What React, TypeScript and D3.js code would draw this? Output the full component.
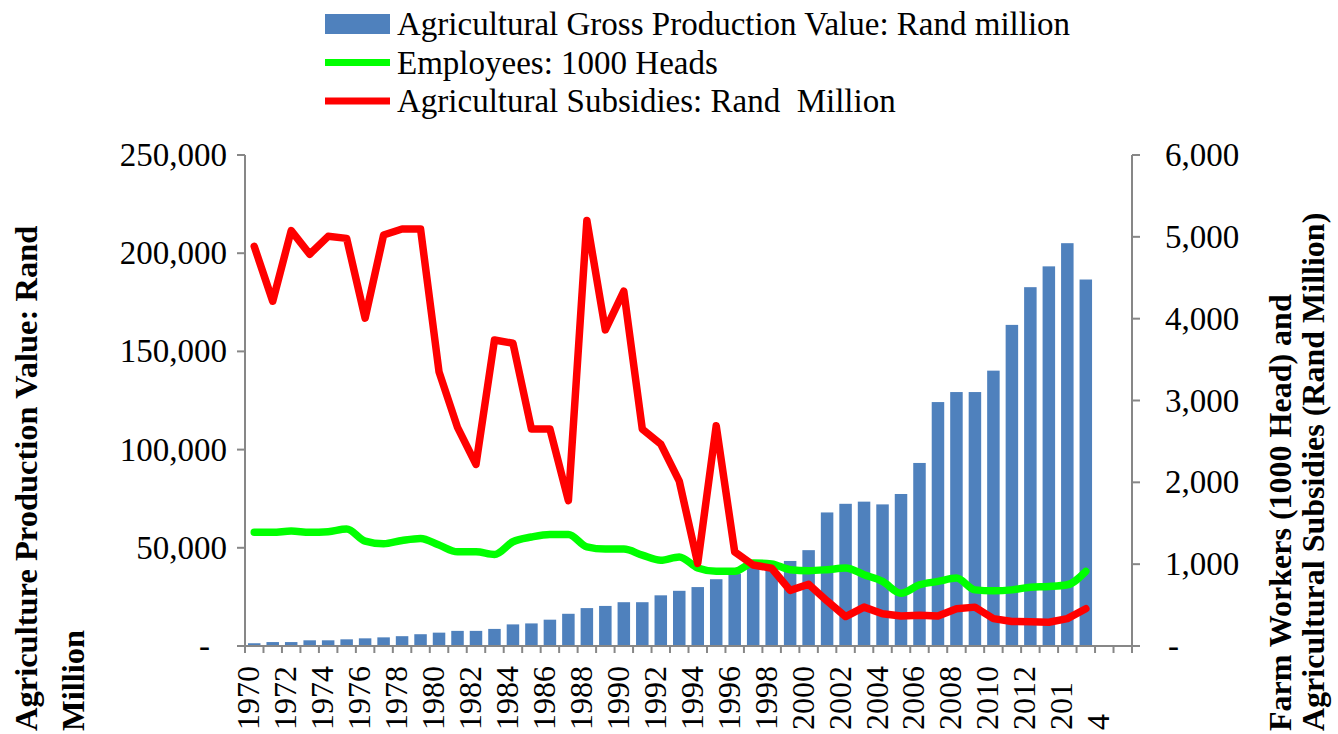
import React from 'react';
import * as d3 from 'd3';

// ---- data ----
const categories: string[] = [
  '1970', '', '1972', '', '1974', '', '1976', '', '1978', '', '1980', '', '1982', '', '1984', '', '1986', '', '1988', '',
  '1990', '', '1992', '', '1994', '', '1996', '', '1998', '', '2000', '', '2002', '', '2004', '', '2006', '', '2008', '',
  '2010', '', '2012', '', '201', '', '4', '',
];

const grossProduction: number[] = [
  1400, 2000, 2000, 2900, 2900, 3400, 3900, 4400, 5000, 6000,
  6800, 7700, 7700, 8700, 11000, 11500, 13400, 16400, 19300, 20400,
  22300, 22300, 25800, 28100, 30000, 34000, 36800, 40200, 41600, 43300,
  48800, 68000, 72400, 73500, 72100, 77400, 93200, 124200, 129300, 129300,
  140200, 163500, 182700, 193300, 205100, 186600,
];

const employees: number[] = [
  1389, 1389, 1405, 1389, 1397, 1430, 1282, 1249, 1290, 1315,
  1233, 1151, 1151, 1118, 1274, 1332, 1364, 1364, 1212, 1184,
  1184, 1110, 1048, 1089, 953, 912, 912, 1015, 1003, 933,
  921, 933, 953, 871, 789, 645, 748, 789, 830, 686,
  674, 686, 719, 727, 748, 912,
];

const subsidies: number[] = [
  4883, 4213, 5076, 4788, 5006, 4981, 4007, 5022, 5096, 5096,
  3350, 2672, 2219, 3740, 3699, 2651, 2651, 1776, 5200, 3863,
  4336, 2651, 2466, 2014, 1010, 2692, 1150, 990, 950, 680,
  755, 550, 360, 475, 395, 366, 375, 366, 455, 475,
  335, 300, 295, 290, 335, 455,
];

const leftTicks: number[] = [0, 50000, 100000, 150000, 200000, 250000];
const rightTicks: number[] = [0, 1000, 2000, 3000, 4000, 5000, 6000];

const legendItems = [
  { label: 'Agricultural Gross Production Value: Rand million', kind: 'bar', color: '#4F81BD' },
  { label: 'Employees: 1000 Heads', kind: 'line', color: '#00FF00' },
  { label: 'Agricultural Subsidies: Rand\u00a0\u00a0Million', kind: 'line', color: '#FF0000' },
];

const W = 1338;
const H = 734;
const left = 245;
const right = 1132;
const top = 155;
const bottom = 646;
const axisColor = '#878787';
const serif = '"Liberation Serif", "Times New Roman", serif';

export default function App() {
  const x = d3.scaleBand<number>().domain(d3.range(categories.length)).range([left, right]);
  const bw = x.bandwidth();
  const cx = (i: number) => (x(i) as number) + bw / 2;
  const yL = d3.scaleLinear().domain([0, 250000]).range([bottom, top]);
  const yR = d3.scaleLinear().domain([0, 6000]).range([bottom, top]);
  const fmt = d3.format(',');
  const barW = 12.5;

  const empLine = d3.line<number>().x((_, i) => cx(i)).y((d) => yR(d)).curve(d3.curveMonotoneX);
  const subLine = d3.line<number>().x((_, i) => cx(i)).y((d) => yR(d)).curve(d3.curveLinear);

  const boundaries = d3.range(categories.length + 1).map((i) => left + i * bw);

  return (
    <svg width={W} height={H} style={{ position: 'absolute', left: 0, top: 0, background: '#fff' }}>
      <rect x={0} y={0} width={W} height={H} fill="#fff" />
      {/* legend */}
      {legendItems.map((it, k) => {
        const cy = 24 + k * 38.5;
        return (
          <g key={k}>
            {it.kind === 'bar' ? (
              <rect x={325} y={cy - 10} width={65} height={20} fill={it.color} />
            ) : (
              <line x1={325} x2={390} y1={cy} y2={cy} stroke={it.color} strokeWidth={7} />
            )}
            <text x={397} y={cy + 11} fontFamily={serif} fontSize={33} fill="#000">
              {it.label}
            </text>
          </g>
        );
      })}

      {/* bars */}
      {grossProduction.map((v, i) => (
        <rect key={i} x={cx(i) - barW / 2} y={yL(v)} width={barW} height={yL(0) - yL(v)} fill="#4F81BD" />
      ))}

      {/* lines */}
      <path d={empLine(employees) || ''} fill="none" stroke="#00FF00" strokeWidth={7.5} strokeLinejoin="round" strokeLinecap="round" />
      <path d={subLine(subsidies) || ''} fill="none" stroke="#FF0000" strokeWidth={7.5} strokeLinejoin="round" strokeLinecap="round" />

      {/* axes */}
      <line x1={left} x2={left} y1={top} y2={bottom} stroke={axisColor} strokeWidth={2} />
      <line x1={right} x2={right} y1={top} y2={bottom} stroke={axisColor} strokeWidth={2} />
      <line x1={left} x2={right} y1={bottom} y2={bottom} stroke={axisColor} strokeWidth={2} />
      {leftTicks.map((t) => (
        <g key={'l' + t}>
          <line x1={left - 8} x2={left} y1={yL(t)} y2={yL(t)} stroke={axisColor} strokeWidth={2} />
          <text x={t === 0 ? 210 : 227} y={yL(t) + 11} textAnchor="end" fontFamily={serif} fontSize={33} fill="#000">
            {t === 0 ? '-' : fmt(t)}
          </text>
        </g>
      ))}
      {rightTicks.map((t) => (
        <g key={'r' + t}>
          <line x1={right} x2={right + 8} y1={yR(t)} y2={yR(t)} stroke={axisColor} strokeWidth={2} />
          <text x={t === 0 ? 1168 : 1165} y={yR(t) + 11} textAnchor="start" fontFamily={serif} fontSize={33} fill="#000">
            {t === 0 ? '-' : fmt(t)}
          </text>
        </g>
      ))}
      {boundaries.map((bx, i) => (
        <line key={'xt' + i} x1={bx} x2={bx} y1={bottom} y2={bottom + 7} stroke={axisColor} strokeWidth={2} />
      ))}
      {categories.map((c, i) =>
        c ? (
          <text
            key={'xl' + i}
            transform={`translate(${cx(i) + 5},730) rotate(-90)`}
            textAnchor="start"
            fontFamily={serif}
            fontSize={32}
            fill="#000"
          >
            {c}
          </text>
        ) : null
      )}

      {/* axis titles */}
      <text transform="translate(37,731) rotate(-90)" fontFamily={serif} fontSize={32.5} fontWeight="bold" fill="#000">
        Agriculture Production Value: Rand
      </text>
      <text transform="translate(84,731) rotate(-90)" fontFamily={serif} fontSize={32.5} fontWeight="bold" fill="#000">
        Million
      </text>
      <text transform="translate(1291,731) rotate(-90)" fontFamily={serif} fontSize={32} fontWeight="bold" fill="#000">
        Farm Workers (1000 Head) and
      </text>
      <text transform="translate(1324,731) rotate(-90)" fontFamily={serif} fontSize={32} fontWeight="bold" fill="#000">
        Agricultural Subsidies (Rand Million)
      </text>
    </svg>
  );
}
